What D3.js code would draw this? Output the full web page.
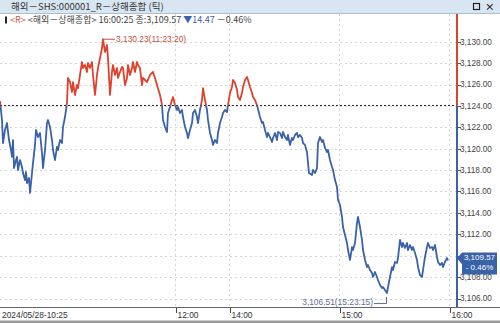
<!DOCTYPE html>
<html><head><meta charset="utf-8">
<script src="https://cdn.jsdelivr.net/npm/d3@7"></script>
<style>
html,body{margin:0;padding:0;background:#fff;overflow:hidden;}
svg{display:block;font-family:"Noto Sans CJK KR","Noto Sans",sans-serif;}
.num{font-family:"Liberation Sans",Arial,sans-serif;}
</style></head><body>
<svg id="c" width="500" height="323"></svg>
<script>
// ---- data (tick sequence number, price) ----
const tickNo = [0,2,3,5,7,9,11,12,13,14,16,17,18,20,22,23,25,26,27,29,30,32,33,35,36,38,40,42,43,45,47,48,50,52,53,55,57,58,60,62,63,65,66,67,68,70,72,73,75,77,78,80,82,83,85,87,88,90,92,93,95,97,98,100,102,103,105,107,108,110,112,113,115,117,118,120,122,123,125,127,128,130,132,133,135,137,138,140,142,143,145,147,150,153,155,157,160,162,163,165,167,168,170,172,173,175,177,178,180,182,183,185,187,188,190,192,193,195,197,198,200,202,203,205,207,208,210,212,213,215,217,218,220,222,223,225,227,228,230,232,233,235,237,238,240,242,243,245,247,248,250,252,253,255,257,260,262,263,265,267,268,270,272,273,275,277,278,280,282,283,285,287,288,290,292,293,295,297,298,300,302,303,305,307,308,309,312,313,315,317,318,320,322,323,325,327,328,330,332,333,335,337,338,340,342,343,345,347,348,350,352,353,355,357,358,360,362,363,365,367,368,370,372,373,375,377,378,380,382,383,385,387,388,390,392,393,395,397,398,400,402,403,405,407,408,410,412,413,415,417,418,420,422,423,425,427,428,430,432,433,435,437,438,440,442,443,445,447,448];
const prices = [3124.46,3122.68,3120.53,3121.75,3122.40,3120.81,3119.88,3119.23,3120.81,3118.19,3118.94,3119.23,3118.01,3118.94,3118.29,3117.72,3117.07,3117.82,3116.79,3117.26,3115.86,3117.72,3118.66,3120.35,3121.75,3121.09,3121.47,3119.60,3118.19,3119.88,3122.40,3122.68,3122.03,3120.81,3119.88,3118.94,3120.16,3119.88,3120.81,3120.53,3122.03,3122.96,3123.62,3124.27,3126.61,3126.23,3125.30,3126.23,3125.02,3125.95,3125.67,3126.89,3128.10,3127.54,3127.82,3127.17,3128.01,3127.54,3128.10,3126.89,3125.02,3126.89,3127.54,3128.48,3129.41,3130.23,3129.04,3129.69,3128.48,3125.02,3127.17,3127.82,3126.89,3127.54,3126.61,3127.17,3127.64,3127.54,3125.95,3126.61,3127.82,3126.89,3127.54,3128.10,3127.17,3128.10,3127.82,3127.54,3125.95,3126.61,3126.42,3126.23,3126.89,3127.17,3126.61,3125.95,3125.02,3124.08,3122.68,3122.03,3121.56,3123.34,3123.90,3124.55,3124.83,3124.08,3123.62,3123.90,3123.34,3123.62,3122.96,3122.03,3121.47,3121.00,3121.75,3122.40,3123.34,3123.62,3122.96,3122.40,3123.62,3124.55,3125.67,3124.55,3123.62,3122.68,3121.47,3120.81,3120.35,3120.81,3120.53,3121.47,3122.40,3122.96,3123.34,3123.62,3123.43,3124.08,3125.21,3125.77,3126.42,3126.14,3125.49,3124.83,3124.55,3125.21,3125.77,3126.42,3126.70,3126.42,3125.77,3125.21,3124.83,3124.55,3124.08,3122.96,3122.40,3122.50,3121.75,3121.09,3121.47,3121.09,3120.63,3121.00,3121.47,3120.81,3121.56,3121.47,3121.00,3121.56,3121.09,3120.81,3121.28,3120.35,3121.00,3120.81,3121.28,3121.47,3121.09,3121.28,3121.00,3120.53,3120.35,3119.69,3118.66,3117.72,3117.54,3118.01,3117.72,3118.19,3120.53,3121.09,3120.63,3120.81,3120.07,3119.69,3119.88,3118.94,3118.29,3118.01,3117.07,3116.42,3115.21,3114.74,3113.62,3112.68,3111.93,3111.19,3110.53,3109.60,3110.81,3110.53,3111.19,3113.06,3113.62,3112.68,3111.47,3110.53,3109.60,3108.94,3109.13,3108.66,3108.38,3108.01,3108.48,3108.01,3107.73,3107.26,3106.98,3107.07,3106.79,3106.51,3107.07,3108.01,3108.94,3108.66,3109.41,3109.32,3109.78,3111.47,3110.81,3111.19,3110.72,3111.19,3110.53,3111.00,3110.53,3110.81,3110.25,3109.60,3108.94,3108.20,3108.01,3108.66,3109.88,3110.81,3111.19,3110.72,3110.81,3110.53,3111.00,3109.88,3109.41,3109.13,3109.32,3108.94,3109.41,3109.78,3109.57];
const prevClose = 3124.04;
const yTickValues = [3106,3108,3110,3112,3114,3116,3118,3120,3122,3124,3126,3128,3130];
const xTickNos = [175,229,339,449];
const xTickLabels = ["12:00","14:00","15:00","16:00"];
const startLabel = "2024/05/28-10:25";
const highPt = {tick:103, value:3130.23, time:"11:23:20"};
const lowPt = {tick:387, value:3106.51, time:"15:23:15"};
const lastInfo = {time:"16:00:25", value:3109.57, change:14.47, pct:-0.46};
const titleText = "해외－SHS:000001_R－상해종합 (틱)";
const seriesName = "<해외－상해종합>";

// ---- layout ----
const W = 500, H = 323;
const plotTop = 14, plotBottom = 307, axisX = 457;
const RED = "#e0412d", BLUE = "#3a62a8";
const svg = d3.select("#c");
const fmt = d3.format(",.2f");

const x = d3.scaleLinear().domain([0, 449]).range([0, 449]);
const y = d3.scaleLinear().domain([3106, 3130]).range([298.5, 41.7]);
const data = tickNo.map((t, i) => ({t, v: prices[i]}));

// title bar
svg.append("rect").attr("x",0).attr("y",0).attr("width",W).attr("height",13).attr("fill","#d8e6f2");
svg.append("line").attr("x1",0).attr("x2",W).attr("y1",13.5).attr("y2",13.5).attr("stroke","#a8bfd6");
svg.append("text").attr("x",11).attr("y",10).attr("font-size",9.5).attr("fill","#333").text(titleText);
svg.append("rect").attr("x",473.5).attr("y",3.5).attr("width",6).attr("height",6).attr("fill","none").attr("stroke","#222").attr("stroke-width",1.2);
svg.append("text").attr("x",485).attr("y",10).attr("font-size",9.5).attr("font-weight","bold").attr("fill","#222").text("×");

// grid
const g = svg.append("g");
g.selectAll(".hg").data(yTickValues).join("line")
  .attr("x1",0).attr("x2",axisX).attr("y1",d=>Math.round(y(d))+0.5).attr("y2",d=>Math.round(y(d))+0.5)
  .attr("stroke","#d4d4d4").attr("stroke-dasharray","2,3");
g.selectAll(".vg").data(xTickNos).join("line")
  .attr("x1",d=>Math.round(x(d))+0.5).attr("x2",d=>Math.round(x(d))+0.5).attr("y1",plotTop).attr("y2",plotBottom)
  .attr("stroke","#d4d4d4").attr("stroke-dasharray","2,3");

// reference line
svg.append("line").attr("x1",0).attr("x2",axisX).attr("y1",y(prevClose)).attr("y2",y(prevClose))
  .attr("stroke","#222").attr("stroke-dasharray","2,2");

// clip regions
const defs = svg.append("defs");
defs.append("clipPath").attr("id","above").append("rect")
  .attr("x",-5).attr("y",0).attr("width",axisX+5).attr("height",y(prevClose));
defs.append("clipPath").attr("id","below").append("rect")
  .attr("x",-5).attr("y",y(prevClose)).attr("width",axisX+5).attr("height",H-y(prevClose));

const line = d3.line().x(d=>x(d.t)).y(d=>y(d.v));
svg.append("path").datum(data).attr("d",line).attr("fill","none").attr("stroke",RED)
  .attr("stroke-width",1.8).attr("stroke-linejoin","round").attr("clip-path","url(#above)");
svg.append("path").datum(data).attr("d",line).attr("fill","none").attr("stroke",BLUE)
  .attr("stroke-width",1.8).attr("stroke-linejoin","round").attr("clip-path","url(#below)");

// y axis line
svg.append("line").attr("x1",axisX).attr("x2",axisX).attr("y1",plotTop).attr("y2",y(prevClose)).attr("stroke",RED).attr("stroke-width",2);
svg.append("line").attr("x1",axisX).attr("x2",axisX).attr("y1",y(prevClose)).attr("y2",plotBottom).attr("stroke",BLUE).attr("stroke-width",2);

// current value box geometry (label hidden behind it is skipped)
const ly = y(lastInfo.value);
const bx = 462, bTop = 252.5, bBot = 274.5, bRight = 497;
const visibleTicks = yTickValues.filter(d => y(d) < bTop - 4 || y(d) > bBot + 1);

// y ticks & labels
const ya = svg.append("g");
ya.selectAll("line").data(yTickValues).join("line")
  .attr("x1",axisX+1).attr("x2",axisX+4).attr("y1",d=>Math.round(y(d))+0.5).attr("y2",d=>Math.round(y(d))+0.5).attr("stroke","#555");
ya.selectAll("text").data(visibleTicks).join("text").attr("class","num")
  .attr("x",axisX+3).attr("y",d=>y(d)).attr("dy","0.35em").attr("font-size",8.2).attr("fill","#444")
  .text(d=>fmt(d));

// current value box
svg.append("path").attr("d",`M${axisX},${ly-2}L${bx},${bTop}L${bRight},${bTop}L${bRight},${bBot}L${bx},${bBot}L${bx},${ly+4}Z`)
  .attr("fill",BLUE);
svg.append("text").attr("class","num").attr("x",(bx+bRight)/2).attr("y",257.6).attr("dy","0.35em").attr("text-anchor","middle")
  .attr("font-size",8).attr("fill","#fff").text(fmt(lastInfo.value));
svg.append("text").attr("class","num").attr("x",(bx+bRight)/2).attr("y",267.2).attr("dy","0.35em").attr("text-anchor","middle")
  .attr("font-size",8).attr("fill","#fff").text("- " + Math.abs(lastInfo.pct).toFixed(2) + "%");

// high / low annotations
const hx = x(highPt.tick), hy = y(highPt.value);
svg.append("line").attr("x1",hx+1).attr("x2",hx+12).attr("y1",hy).attr("y2",hy).attr("stroke","#c8503e");
svg.append("text").attr("class","num").attr("x",hx+13).attr("y",hy).attr("dy","0.35em").attr("font-size",8.4).attr("fill","#c8503e")
  .text(fmt(highPt.value) + "(" + highPt.time + ")");
const lx = x(lowPt.tick), lyy = y(lowPt.value);
svg.append("path").attr("d",`M${lx-13},${lyy+10.5}H${lx-0.5}V${lyy+4}`).attr("fill","none").attr("stroke","#5a6f9a");
svg.append("text").attr("class","num").attr("x",lx-14).attr("y",lyy+9.5).attr("dy","0.35em").attr("text-anchor","end").attr("font-size",8.4).attr("fill","#5a6f9a")
  .text(fmt(lowPt.value) + "(" + lowPt.time + ")");

// x axis
svg.append("line").attr("x1",0).attr("x2",W).attr("y1",plotBottom+0.5).attr("y2",plotBottom+0.5).attr("stroke","#666");
const xa = svg.append("g");
xa.selectAll("line").data(xTickNos).join("line")
  .attr("x1",d=>Math.round(x(d))+1.5).attr("x2",d=>Math.round(x(d))+1.5).attr("y1",plotBottom+1).attr("y2",plotBottom+6).attr("stroke","#444");
xa.selectAll("text").data(xTickNos).join("text").attr("class","num")
  .attr("x",d=>x(d)+2.5).attr("y",315).attr("dy","0.35em").attr("font-size",8.4).attr("fill","#333")
  .text((d,i)=>xTickLabels[i]);
svg.append("text").attr("class","num").attr("x",2).attr("y",315).attr("dy","0.35em").attr("font-size",8.4).attr("fill","#333").text(startLabel);
svg.append("rect").attr("x",0).attr("y",320.5).attr("width",W).attr("height",2.5).attr("fill","#9a9a9a");

// legend line
svg.append("rect").attr("x",5).attr("y",16.5).attr("width",2).attr("height",7).attr("fill","#222");
const lt = svg.append("text").attr("x",10).attr("y",20).attr("dy","0.35em").attr("font-size",9).attr("fill","#444");
lt.append("tspan").attr("fill","#d8553f").text("<R>");
lt.append("tspan").text(" " + seriesName + " " + lastInfo.time + " 종:" + fmt(lastInfo.value) + " ");
lt.append("tspan").attr("fill",BLUE).text("▼" + lastInfo.change.toFixed(2));
lt.append("tspan").text("  －" + Math.abs(lastInfo.pct).toFixed(2) + "%");
</script>
</body></html>
